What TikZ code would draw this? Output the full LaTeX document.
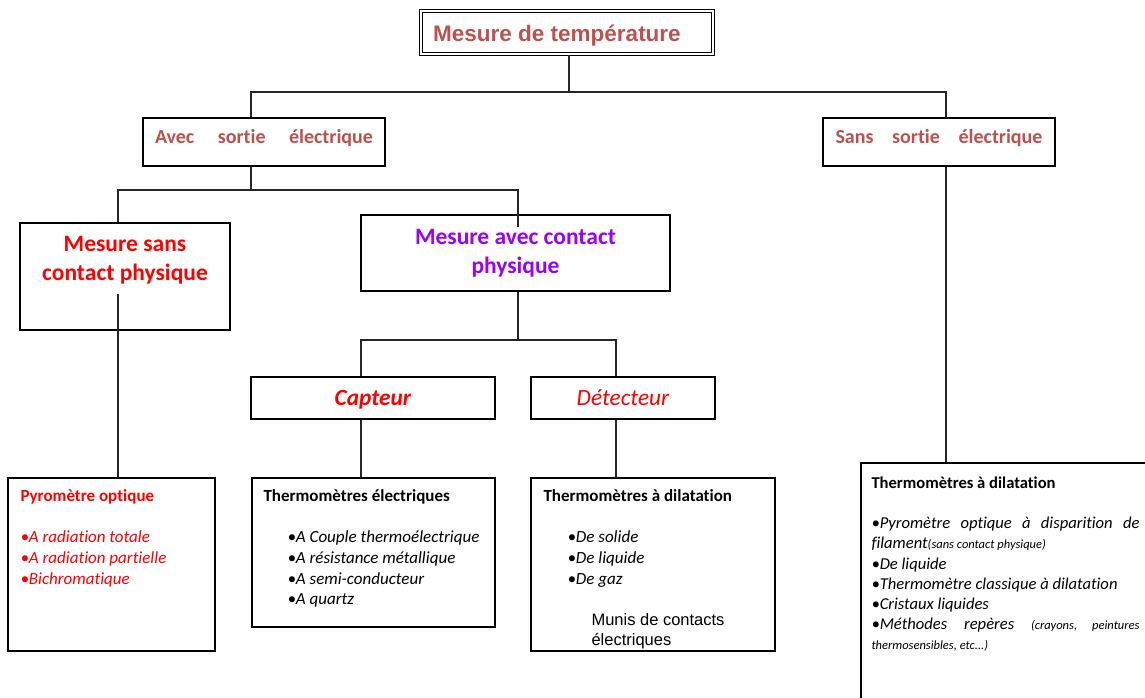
\documentclass[tikz,border=0pt]{standalone}
\usepackage{fontspec}
\setmainfont{Carlito}[Ligatures=NoCommon]
\newfontfamily\arialfont{Liberation Sans}
\usetikzlibrary{positioning,calc}
\definecolor{titlered}{RGB}{192,80,77}
\definecolor{brightred}{RGB}{255,0,0}
\definecolor{violetm}{RGB}{153,0,255}

\begin{document}
\begin{tikzpicture}[x=1pt, y=-1pt,
    titlebox/.style={rectangle, draw, double, double distance=1.8pt, line width=1.1pt, inner sep=0pt, minimum width=292pt, minimum height=43pt, font=\arialfont\bfseries\fontsize{22.5}{26}\selectfont, text=titlered},
    sortiebox/.style={rectangle, draw, line width=2.2pt, inner sep=0pt, minimum height=48pt, font=\bfseries\fontsize{20}{24}\selectfont, text=titlered},
    bigbox/.style={rectangle, draw, line width=2.8pt, inner sep=0pt, align=center, font=\bfseries\fontsize{23.5}{28.5}\selectfont},
    subbox/.style={rectangle, draw, line width=2.8pt, inner sep=0pt, minimum height=42pt, font=\fontsize{23.3}{26}\selectfont, text=brightred},
    leafbox/.style={rectangle, draw, line width=1.4pt, inner sep=0pt},
    leaftext/.style={anchor=north west, inner sep=0pt, align=left, font=\fontsize{17}{20.6}\selectfont},
    conn/.style={draw=black!85, line width=1.3pt}
]
    \useasboundingbox (0,0) rectangle (1145,698);

    % boites
    \node[titlebox] (titre) at (567,32.5) {\raisebox{-3pt}[\height][\depth]{Mesure de température}\hspace*{20pt}};
    \node[sortiebox, minimum width=242pt] (avec) at (264,142) {\raisebox{4pt}[\height][\depth]{\hbox to 218pt{Avec\hfill sortie\hfill électrique}}};
    \node[sortiebox, minimum width=232pt] (sans) at (939,142) {\raisebox{4pt}[\height][\depth]{\hbox to 207pt{Sans\hfill sortie\hfill électrique}}};
    \node[bigbox, text=brightred, minimum width=210pt, minimum height=107pt] (msans) at (125,276.5) {\raisebox{16pt}[\height][\depth]{\begin{tabular}{@{}c@{}}Mesure sans\\contact physique\end{tabular}}};
    \node[bigbox, text=violetm, minimum width=309pt, minimum height=76pt] (mavec) at (515.5,253) {Mesure avec contact\\physique};
    \node[subbox, minimum width=244pt] (capteur) at (373,398) {\raisebox{-1.5pt}[\height][\depth]{\textbf{\textit{Capteur}}}};
    \node[subbox, minimum width=184pt] (detecteur) at (623,398) {\textit{Détecteur}};
    \node[leafbox, minimum width=207pt, minimum height=173pt] (pyro) at (111.5,564.5) {};
    \node[leafbox, minimum width=243pt, minimum height=149pt] (telec) at (373.5,552.5) {};
    \node[leafbox, minimum width=244pt, minimum height=173pt] (tdil) at (653,564.5) {};
    \node[leafbox, minimum width=299pt, minimum height=247pt] (droite) at (1010.5,586.5) {};

    % textes des feuilles
    \node[leaftext, text=brightred] (pyrotxt) at ([xshift=13pt,yshift=-12.5pt]pyro.north west)
        {\textbf{Pyromètre optique}\\[20.3pt]
         \textit{•A radiation totale}\\
         \textit{•A radiation partielle}\\
         \textit{•Bichromatique}};
    \node[leaftext] (telectxt) at ([xshift=12pt,yshift=-12.5pt]telec.north west)
        {\textbf{Thermomètres électriques}\\[20.3pt]
         \hspace*{24pt}\textit{•A Couple thermoélectrique}\\
         \hspace*{24pt}\textit{•A résistance métallique}\\
         \hspace*{24pt}\textit{•A semi-conducteur}\\
         \hspace*{24pt}\textit{•A quartz}};
    \node[leaftext] (tdiltxt) at ([xshift=13pt,yshift=-12.5pt]tdil.north west)
        {\textbf{Thermomètres à dilatation}\\[20.3pt]
         \hspace*{24pt}\textit{•De solide}\\
         \hspace*{24pt}\textit{•De liquide}\\
         \hspace*{24pt}\textit{•De gaz}\\[21pt]
         \hspace*{48pt}{\arialfont\fontsize{16.5}{20}\selectfont Munis de contacts}\\[-0.7pt]
         \hspace*{48pt}{\arialfont\fontsize{16.5}{20}\selectfont électriques}};
    \node[leaftext, text width=268pt, align=justify, font=\fontsize{16.6}{20.2}\selectfont] (droitetxt) at ([xshift=11pt,yshift=-14pt]droite.north west)
        {\textbf{Thermomètres à dilatation}\\[20.3pt]
         \itshape •Pyromètre optique à disparition de\linebreak filament{\fontsize{12.5}{14}\selectfont(sans contact physique)}\\
         •De liquide\\
         •Thermomètre classique à dilatation\\
         •Cristaux liquides\\
         •Méthodes repères {\fontsize{12.5}{14}\selectfont (crayons, peintures}\linebreak{\fontsize{12.5}{18}\selectfont thermosensibles, etc...)}};

    % liaisons
    \coordinate (j1) at (569,92);
    \coordinate (j2) at (251,190);
    \coordinate (j3) at (518,340);
    \draw[conn] ([xshift=2pt]titre.south) -- (j1);
    \draw[conn] ([xshift=-13pt]avec.north) |- (j1) -| ([xshift=7pt]sans.north);
    \draw[conn] ([xshift=-13pt]avec.south) -- (j2);
    \draw[conn] ([xshift=-7pt]msans.north) |- (j2) -| ([xshift=2.5pt,yshift=-13pt]mavec.north);
    \draw[conn] ([xshift=-7pt,yshift=37pt]msans.south) -- ([xshift=6.5pt]pyro.north);
    \draw[conn] ([xshift=2.5pt]mavec.south) -- (j3);
    \draw[conn] ([xshift=-12pt]capteur.north) |- (j3) -| ([xshift=-7pt]detecteur.north);
    \draw[conn] ([xshift=-12pt]capteur.south) -- ([xshift=-12.5pt]telec.north);
    \draw[conn, line width=2.6pt] ([xshift=-7pt]detecteur.south) -- ([xshift=-37pt]tdil.north);
    \draw[conn] ([xshift=7pt]sans.south) -- ([xshift=-64.5pt]droite.north);
\end{tikzpicture}
\end{document}
